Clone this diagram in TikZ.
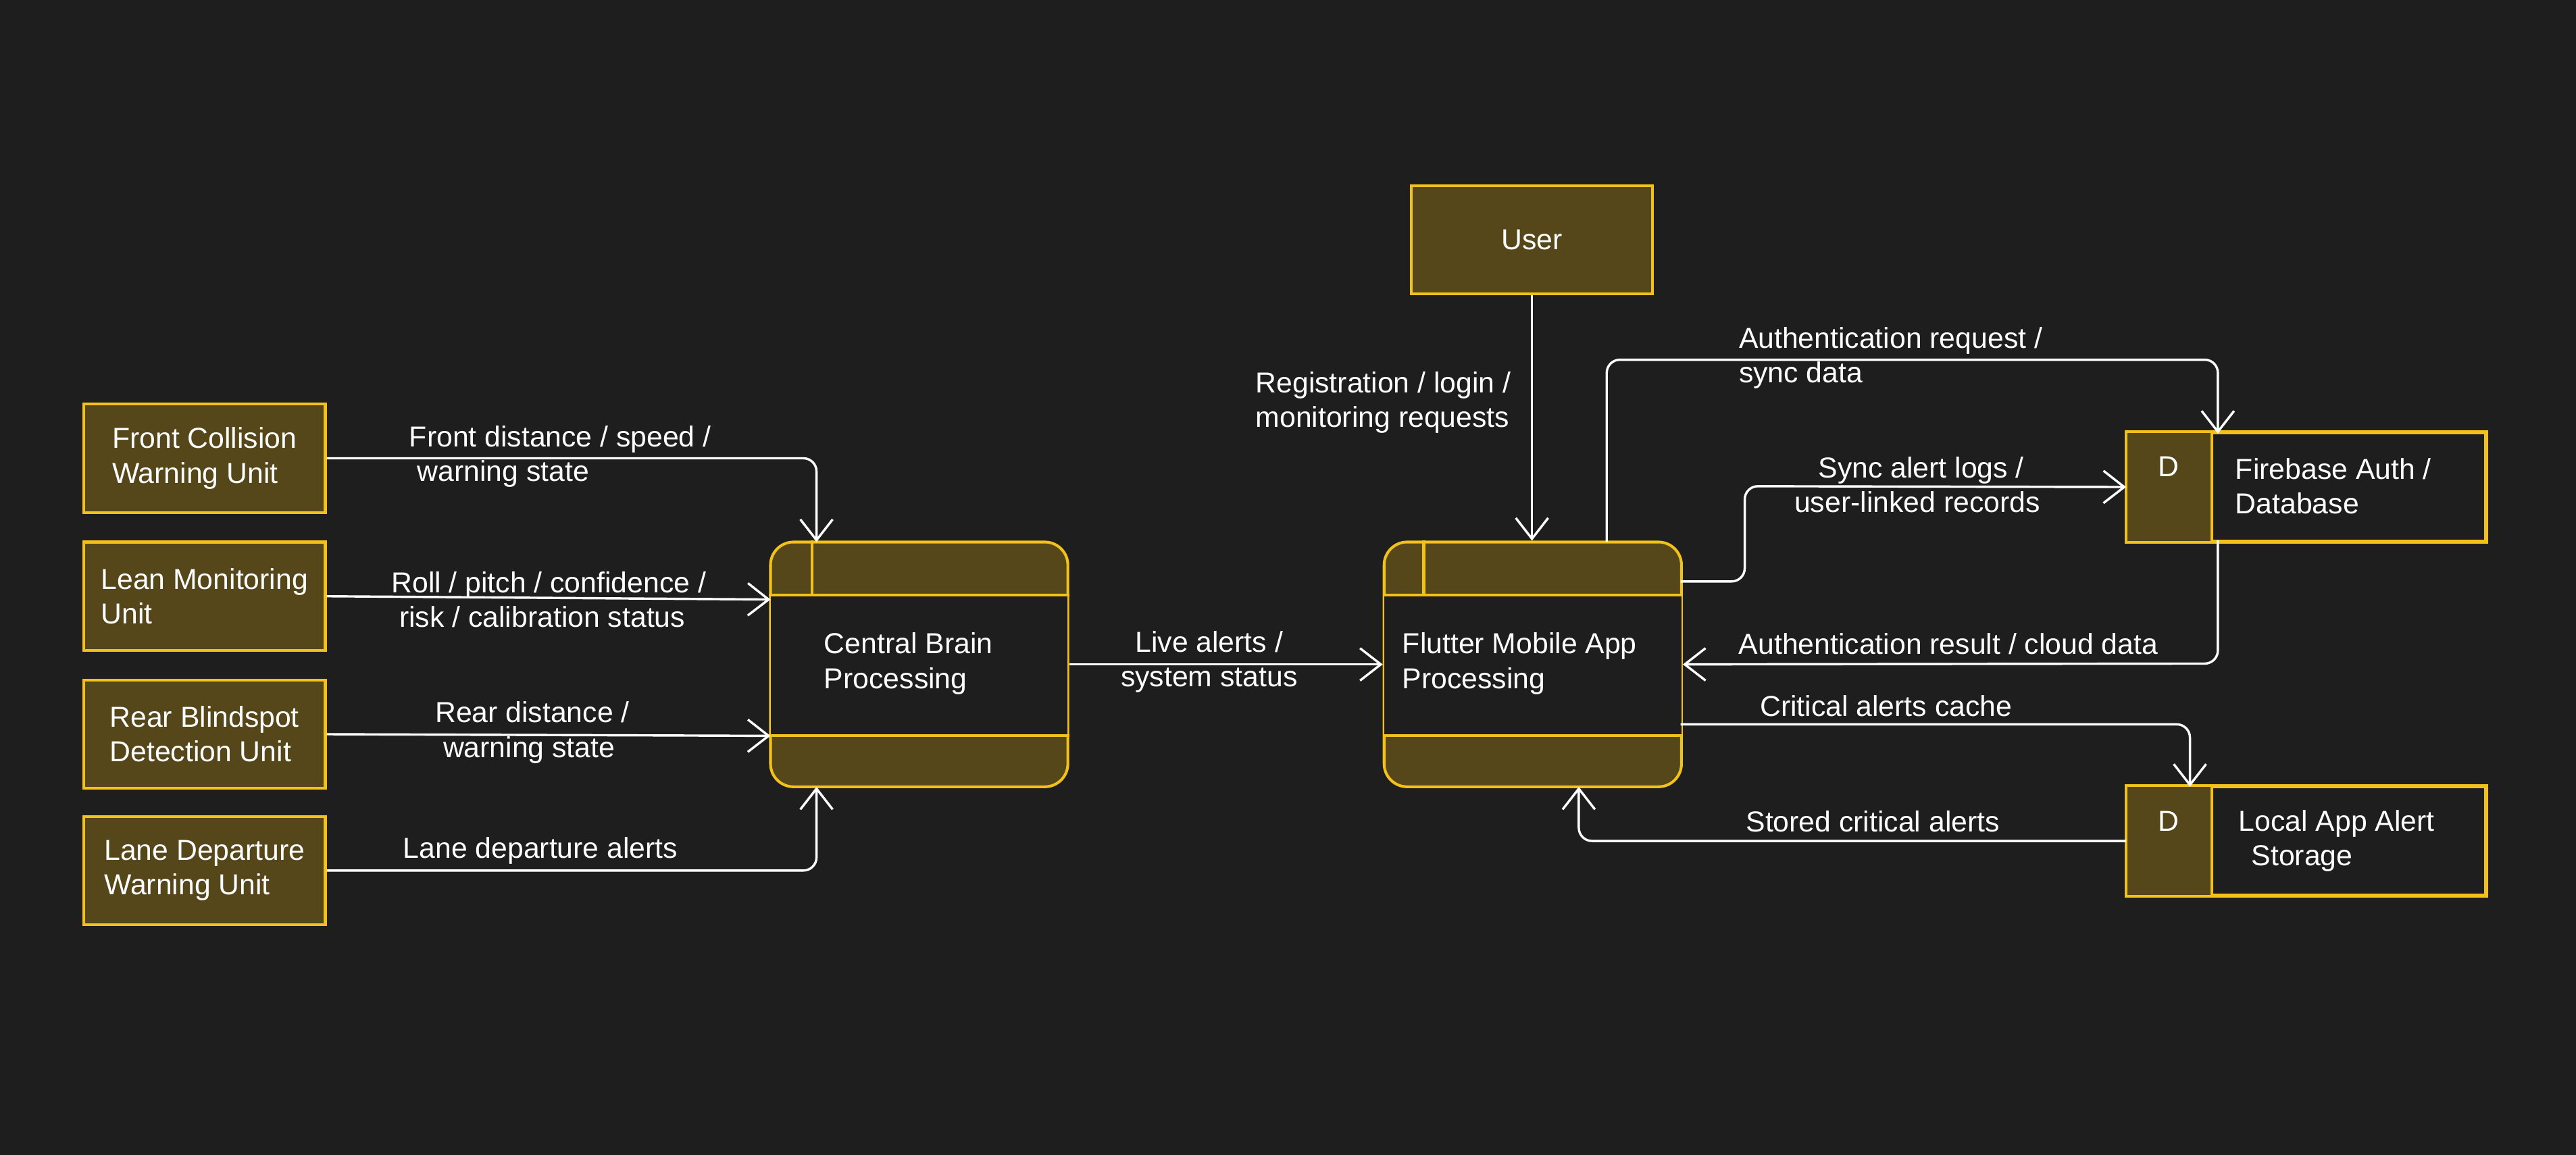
\documentclass[tikz,border=0pt]{standalone}
\usepackage{fontspec}
\setmainfont{Liberation Sans}
\usetikzlibrary{arrows.meta,calc}
\definecolor{bg}{HTML}{1E1E1E}
\definecolor{boxfill}{HTML}{554719}
\definecolor{boxline}{HTML}{F2C21B}
\begin{document}
\begin{tikzpicture}[x=0.025cm,y=-0.025cm,
  every node/.style={font=\fontsize{12.5}{15}\selectfont, text=white},
  ent/.style={draw=boxline, fill=boxfill, line width=1.2pt, minimum width=147*0.025cm, minimum height=66*0.025cm, align=left, inner sep=2pt},
  proc/.style={draw=boxline, fill=boxfill, line width=1.2pt, rounded corners=14*0.025cm, minimum width=181*0.025cm, minimum height=149*0.025cm},
  store/.style={draw=boxline, fill=bg, line width=1.2pt, minimum width=218*0.025cm, minimum height=66*0.025cm},
  flow/.style={draw=white, line width=1pt, rounded corners=8*0.025cm, -{Straight Barb[length=9pt,width=14pt,line width=1pt]}},
  lbl/.style={align=left, inner sep=1pt}]
\fill[bg] (0,0) rectangle (1568,703);
\useasboundingbox (0,0) rectangle (1568,703);
% left entities
\node[ent] (fc) at (124.5,279) {Front Collision\\Warning Unit};
\node[ent] (lm) at (124.5,363) {Lean Monitoring\\Unit};
\node[ent] (rb) at (124.5,447) {Rear Blindspot\\Detection Unit};
\node[ent] (ld) at (124.5,530) {Lane Departure\\Warning Unit};
\node[ent] (user) at (932.5,146) {User};
% central brain
\node[proc] (cb) at (559.5,404.5) {};
\fill[bg] ($(cb.north west)+(1,33)$) rectangle ($(cb.south east)+(-1,-32)$);
\draw[boxline,line width=1.2pt] ($(cb.north west)+(0,33)$) -- ($(cb.north east)+(0,33)$);
\draw[boxline,line width=1.2pt] ($(cb.south west)+(0,-32)$) -- ($(cb.south east)+(0,-32)$);
\draw[boxline,line width=1.2pt] ($(cb.north west)+(26,0)$) -- ($(cb.north west)+(26,33)$);
\node[lbl, anchor=west] (cbt) at (500,404) {Central Brain\\Processing};
% flutter
\node[proc] (fl) at (933,404.5) {};
\fill[bg] ($(fl.north west)+(1,33)$) rectangle ($(fl.south east)+(-1,-32)$);
\draw[boxline,line width=1.2pt] ($(fl.north west)+(0,33)$) -- ($(fl.north east)+(0,33)$);
\draw[boxline,line width=1.2pt] ($(fl.south west)+(0,-32)$) -- ($(fl.south east)+(0,-32)$);
\draw[boxline,line width=1.2pt] ($(fl.north west)+(25,0)$) -- ($(fl.north west)+(25,33)$);
\node[lbl, anchor=west] (flt) at (852,404) {Flutter Mobile App\\Processing};
% stores
\node[store] (fb) at (1404,296.5) {};
\fill[boxfill] (fb.north west) rectangle ($(fb.south west)+(52,0)$);
\draw[boxline,line width=1.2pt] (fb.north west) rectangle (fb.south east);
\draw[boxline,line width=1.2pt] ($(fb.north west)+(52,0)$) -- ($(fb.south west)+(52,0)$);
\node (fbd) at (1320,284) {D};
\node[lbl, anchor=west] (fbt) at (1359,296) {Firebase Auth /\\Database};
\node[store] (la) at (1404,512) {};
\fill[boxfill] (la.north west) rectangle ($(la.south west)+(52,0)$);
\draw[boxline,line width=1.2pt] (la.north west) rectangle (la.south east);
\draw[boxline,line width=1.2pt] ($(la.north west)+(52,0)$) -- ($(la.south west)+(52,0)$);
\node (lad) at (1320,500) {D};
\node[lbl, anchor=west] (lat) at (1361,512) {Local App Alert\\\ \,Storage};
% flows
\coordinate (cbTop) at (497,330);
\coordinate (cbBot) at (497,479);
\draw[flow] (fc.east) -- (497,279) -- (cbTop);
\node[lbl, align=left] at (341,278) {Front distance / speed /\\\ warning state};
\draw[flow] (lm.east) -- (469,365);
\node[lbl, align=left] at (334,365) {Roll / pitch / confidence /\\\ risk / calibration status};
\draw[flow] (rb.east) -- (469,448);
\node[lbl, align=left] at (324,446) {Rear distance /\\\ warning state};
\draw[flow] (ld.east) -- (497,530) -- (cbBot);
\node[lbl] at (329,518) {Lane departure alerts};
\draw[flow] (cb.east) -- (fl.west);
\node[lbl, align=center] at (736,403) {Live alerts /\\system status};
\draw[flow] (user.south) -- (fl.north -| user.south);
\node[lbl, align=left] at (842,245) {Registration / login /\\monitoring requests};
\draw[flow] (978,330) -- (978,219) -- (1350,219) -- (1350,264);
\node[lbl, align=left] at (1184,218) {Authentication request /\\sync data\phantom{xxxxxxxxxxxxxxxxxxxx}};
\draw[flow] (1023,354) -- (1062,354) -- (1062,296) -- (fb.west);
\node[lbl, align=left] at (1167,295) {\ \ \ Sync alert logs /\\user-linked records};
\draw[flow] (1350,329) -- (1350,404) -- (fl.east);
\node[lbl] at (1186,392) {Authentication result / cloud data};
\draw[flow] (1023,441) -- (1333,441) -- (1333,479);
\node[lbl] at (1148,430) {Critical alerts cache};
\draw[flow] (la.west) -- (961,512) -- (961,479);
\node[lbl] at (1140,500) {Stored critical alerts};
\end{tikzpicture}
\end{document}
